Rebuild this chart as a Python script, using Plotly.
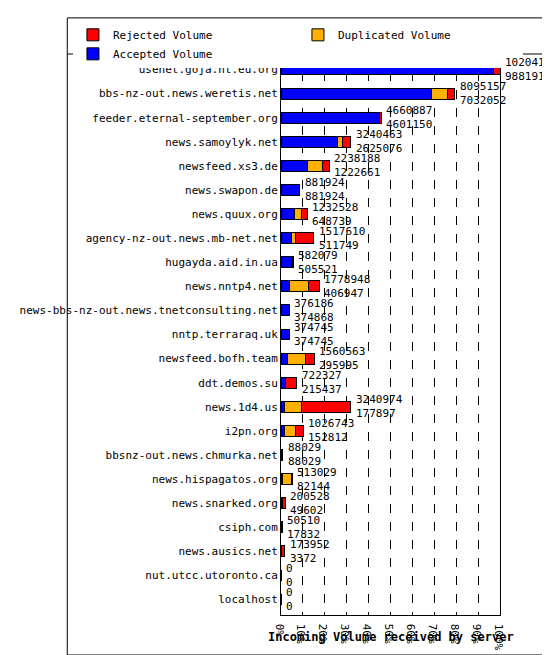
import plotly.graph_objects as go

# Server names, top to bottom
servers = ["usenet.goja.nl.eu.org", "bbs-nz-out.news.weretis.net", "feeder.eternal-september.org",
           "news.samoylyk.net", "newsfeed.xs3.de", "news.swapon.de", "news.quux.org",
           "agency-nz-out.news.mb-net.net", "hugayda.aid.in.ua", "news.nntp4.net",
           "news-bbs-nz-out.news.tnetconsulting.net", "nntp.terraraq.uk", "newsfeed.bofh.team",
           "ddt.demos.su", "news.1d4.us", "i2pn.org", "bbsnz-out.news.chmurka.net",
           "news.hispagatos.org", "news.snarked.org", "csiph.com", "news.ausics.net",
           "nut.utcc.utoronto.ca", "localhost"]
total = [10204120, 8095157, 4660887, 3240463, 2238188, 881924, 1232528, 1517610, 582079,
         1778948, 376186, 374745, 1560563, 722327, 3240974, 1026743, 88029, 513029, 200528,
         50510, 173952, 0, 0]
accepted = [9881916, 7032052, 4601150, 2625076, 1222661, 881924, 648739, 511749, 505521,
            406947, 374868, 374745, 295995, 215437, 177897, 152812, 88029, 82144, 49602,
            17832, 3372, 0, 0]
duplicated = [40000, 730000, 0, 250000, 690000, 0, 290000, 170000, 20000, 860000, 1318, 0,
              860000, 0, 770000, 500000, 0, 400000, 0, 0, 0, 0, 0]
rejected = [t - a - d for t, a, d in zip(total, accepted, duplicated)]
tick_pct = list(range(0, 101, 10))

vmax = max(total)
font = "DejaVu Sans Mono"

fig = go.Figure()
for name, vals, col in [("Accepted Volume", accepted, "#0000ff"),
                        ("Duplicated Volume", duplicated, "#ffb000"),
                        ("Rejected Volume", rejected, "#ff0000")]:
    fig.add_trace(go.Bar(y=servers, x=vals, name=name, orientation="h",
                         marker=dict(color=col, line=dict(color="black", width=1)),
                         width=0.45))

for s, t, a in zip(servers, total, accepted):
    fig.add_annotation(x=t, y=s, text="{}<br>{}".format(t, a), xanchor="left", xshift=3,
                       showarrow=False, align="left", font=dict(size=11, color="black"))

fig.update_layout(
    barmode="stack", width=550, height=655, plot_bgcolor="white", paper_bgcolor="white",
    font=dict(family=font, size=11, color="black"),
    margin=dict(l=243, r=58, t=38, b=42),
    legend=dict(orientation="h", x=-0.95, y=1.06, xref="paper", yref="paper",
                xanchor="left", font=dict(size=11), entrywidth=180),
    showlegend=True,
)
fig.add_annotation(text="<b>Incoming Volume received by server</b>", x=0.5, y=-0.055,
                   xref="paper", yref="paper", showarrow=False, font=dict(size=12))
fig.update_xaxes(range=[0, vmax], tickvals=[p * vmax / 100 for p in tick_pct],
                 ticktext=["{}%".format(p) for p in tick_pct], showgrid=True,
                 gridcolor="black", griddash="dash", gridwidth=1, showline=True,
                 linecolor="black", mirror=True, tickfont=dict(size=11), zeroline=False)
fig.update_yaxes(autorange="reversed", showline=True, linecolor="black", mirror=True,
                 ticks="", tickfont=dict(size=11))
fig.add_shape(type="rect", xref="paper", yref="paper", x0=-243 / 249, x1=1 + 56 / 249,
              y0=-41 / 575, y1=1 + 37 / 575, line=dict(color="black", width=1))
fig.add_shape(type="line", xref="paper", yref="paper", x0=-243 / 249, x1=1 + 56 / 249,
              y0=1, y1=1, line=dict(color="black", width=1))

fig.write_html("out.html")
